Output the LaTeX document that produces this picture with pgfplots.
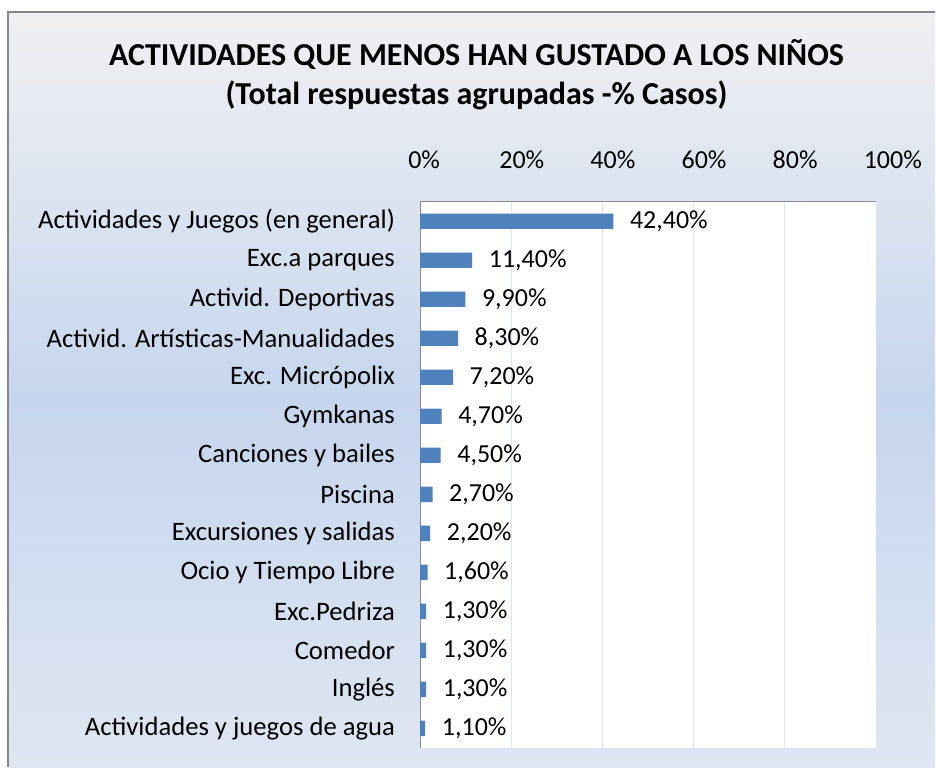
\documentclass[border=0pt]{standalone}
\usepackage{fontspec}
\setmainfont{Carlito}
\usepackage{pgfplots}
\pgfplotsset{compat=1.18}
\definecolor{barblue}{HTML}{4F81BD}
\definecolor{bgtop}{HTML}{F0F0F2}
\definecolor{bgmid}{HTML}{C6D6EE}
\definecolor{bgbot}{HTML}{DFE6F2}
\definecolor{framegray}{HTML}{878787}
\definecolor{gridblue}{HTML}{DCE6F2}
\definecolor{axisgray}{HTML}{8C8C8C}
% pixel position of the reference (y downwards) -> pt
\newcommand\px[2]{({#1*0.75pt},{-#2*0.75pt})}

\begin{document}
\begin{tikzpicture}
  % page and chart area
  \fill[white] \px{0}{0} rectangle \px{936}{768};
  \shade[top color=bgtop, bottom color=bgmid] \px{9}{13} rectangle \px{936}{400};
  \shade[top color=bgmid, bottom color=bgbot] \px{9}{399.5} rectangle \px{936}{768};
  \draw[framegray, line width=1.5pt] \px{8.5}{768} -- \px{8.5}{12.5} -- \px{936}{12.5};

  \node[font=\fontsize{24}{28}\selectfont\bfseries] at \px{477}{55} {ACTIVIDADES QUE MENOS HAN GUSTADO A LOS NIÑOS};
  \node[font=\fontsize{24}{28}\selectfont\bfseries] at \px{477}{95} {(Total respuestas agrupadas -\% Casos)};

  \begin{axis}[
      at={(315.5pt,-561.5pt)}, anchor=south west,
      scale only axis,
      width=342pt, height=410pt,
      xbar, bar width=11.5pt,
      xmin=0, xmax=100,
      ymin=-0.5, ymax=13.5,
      axis x line*=top, axis y line*=left,
      axis line style={axisgray, line width=1pt},
      axis background/.style={fill=white},
      xtick={0,20,40,60,80,100},
      xticklabels={0\%,20\%,40\%,60\%,80\%,100\%},
      minor xtick={20,40,60,80},
      xminorgrids,
      minor grid style={gridblue, line width=1.2pt},
      major tick length=0pt, minor tick length=0pt,
      xticklabel pos=upper,
      x tick label style={font=\fontsize{19.5}{22}\selectfont, anchor=south west, xshift=-12.5pt, yshift=21.5pt},
      ytick={0,...,13},
      yticklabels={Actividades y juegos de agua, Inglés, Comedor, Exc.Pedriza,
        Ocio y Tiempo Libre, Excursiones y salidas, Piscina, Canciones y bailes,
        Gymkanas, Exc. Micrópolix, Activid. Artísticas-Manualidades,
        Activid. Deportivas, Exc.a parques, Actividades y Juegos (en general)},
      y tick label style={font=\fontsize{20}{23}\selectfont, anchor=east, xshift=-15.5pt},
      nodes near coords,
      point meta=explicit symbolic,
      every node near coord/.append style={font=\fontsize{19.5}{22}\selectfont, anchor=west, xshift=9pt},
      clip=false,
    ]
    \addplot[fill=barblue, draw=none] coordinates {
      (1.1,0) [1,10\%]
      (1.3,1) [1,30\%]
      (1.3,2) [1,30\%]
      (1.3,3) [1,30\%]
      (1.6,4) [1,60\%]
      (2.2,5) [2,20\%]
      (2.7,6) [2,70\%]
      (4.5,7) [4,50\%]
      (4.7,8) [4,70\%]
      (7.2,9) [7,20\%]
      (8.3,10) [8,30\%]
      (9.9,11) [9,90\%]
      (11.4,12) [11,40\%]
      (42.4,13) [42,40\%]
    };
  \end{axis}
\end{tikzpicture}
\end{document}
